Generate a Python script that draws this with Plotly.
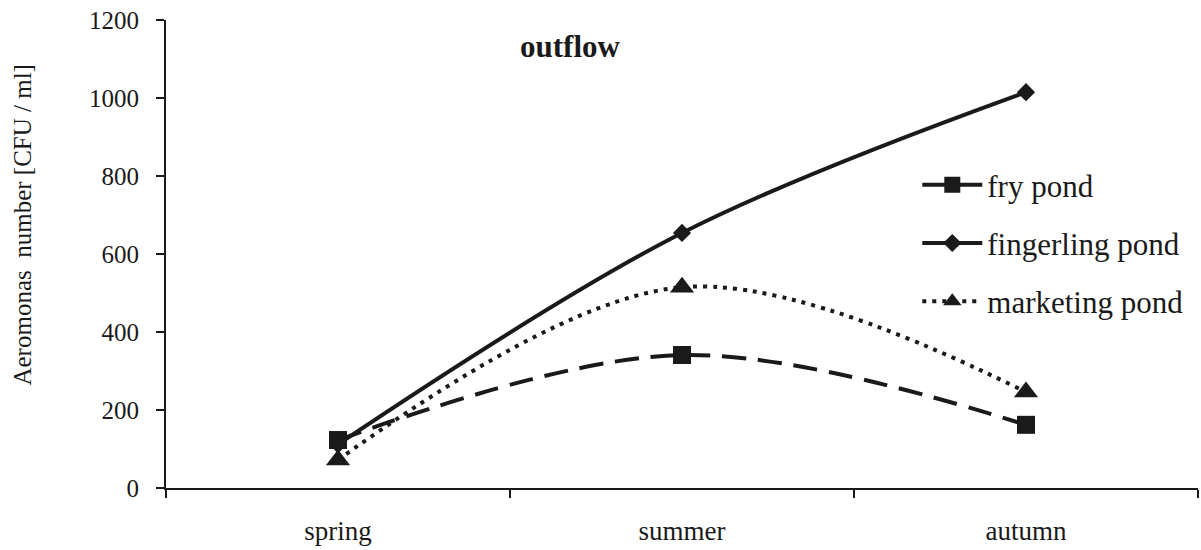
import plotly.graph_objects as go

seasons = ["spring", "summer", "autumn"]
fry_pond = [123, 341, 162]
fingerling_pond = [112, 654, 1015]
marketing_pond = [72, 515, 246]
y_ticks = [0, 200, 400, 600, 800, 1000, 1200]

FONT = "Liberation Serif"
INK = "#1a1a1a"

fig = go.Figure()
fig.add_trace(go.Scatter(
    x=seasons, y=fry_pond, name="fry pond", mode="lines+markers",
    line=dict(color=INK, width=4, dash="24px,12px", shape="spline", smoothing=1),
    marker=dict(symbol="square", size=18, color=INK),
    legendgroup="a"))
fig.add_trace(go.Scatter(
    x=seasons, y=fingerling_pond, name="fingerling pond", mode="lines+markers",
    line=dict(color=INK, width=4, shape="spline", smoothing=1),
    marker=dict(symbol="diamond", size=14, color=INK),
    legendgroup="b"))
fig.add_trace(go.Scatter(
    x=seasons, y=marketing_pond, name="marketing pond", mode="lines+markers",
    line=dict(color=INK, width=4, dash="4px,6px", shape="spline", smoothing=1),
    marker=dict(symbol="triangle-up", size=21, color=INK),
    legendgroup="c"))

fig.update_layout(
    width=1201, height=550,
    margin=dict(l=166, r=3, t=20, b=62),
    paper_bgcolor="white", plot_bgcolor="white",
    font=dict(family=FONT, color=INK, size=25),
    showlegend=True,
    legend=dict(x=0.728, y=0.705, xanchor="left", yanchor="top",
                font=dict(size=31, family=FONT, color=INK),
                bgcolor="rgba(0,0,0,0)", tracegroupgap=15, itemwidth=60),
    annotations=[
        dict(text="<b>outflow</b>", x=0.392, y=0.944, xref="paper", yref="paper",
             xanchor="center", yanchor="middle",
             showarrow=False, font=dict(size=31, family=FONT, color=INK)),
        dict(text="Aeromonas  number [CFU / ml]", x=-0.139, y=0.562,
             xref="paper", yref="paper", xanchor="center", yanchor="middle",
             textangle=-90, showarrow=False,
             font=dict(size=25, family=FONT, color=INK)),
    ],
)
fig.update_xaxes(
    type="category", range=[-0.5, 2.5], showline=True, linecolor=INK, linewidth=2,
    ticks="outside", tickson="boundaries", ticklen=8, tickwidth=2, tickcolor=INK,
    showgrid=False, zeroline=False, ticklabelstandoff=18,
    tickfont=dict(size=27, family=FONT, color=INK))
fig.update_yaxes(
    range=[0, 1200], tickvals=y_ticks, showline=True, linecolor=INK, linewidth=2,
    ticks="outside", ticklen=8, tickwidth=2, tickcolor=INK,
    showgrid=False, zeroline=False, ticklabelstandoff=12,
    tickfont=dict(size=25, family=FONT, color=INK))

fig.write_html("out.html")
